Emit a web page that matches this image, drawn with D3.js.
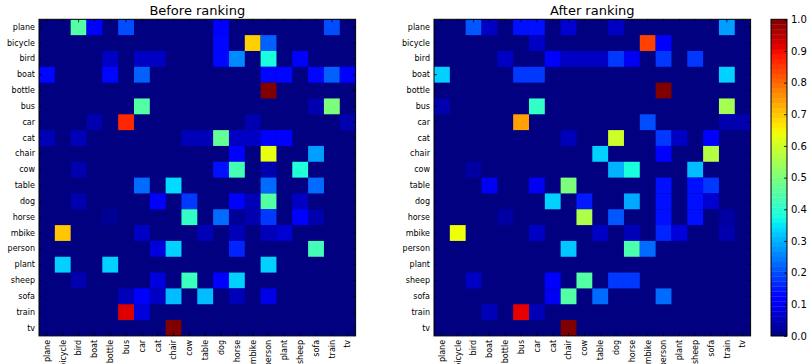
<!DOCTYPE html>
<html>
<head>
<meta charset="utf-8">
<script src="https://cdn.jsdelivr.net/npm/d3@7/dist/d3.min.js"></script>
<style>
  body { margin: 0; background: #fff; }
  text { font-family: "DejaVu Sans", sans-serif; fill: #000; }
</style>
</head>
<body>
<svg id="chart" width="809" height="364"></svg>
<script>
const classes = ['plane', 'bicycle', 'bird', 'boat', 'bottle', 'bus', 'car', 'cat', 'chair', 'cow',
  'table', 'dog', 'horse', 'mbike', 'person', 'plant', 'sheep', 'sofa', 'train', 'tv'];

const titles = ['Before ranking', 'After ranking'];
const cbarTicks = [0, 0.1, 0.2, 0.3, 0.4, 0.5, 0.6, 0.7, 0.8, 0.9, 1.0];

// non-zero cells: [row, col, value]  (everything else is 0)
const beforeCells = [
  [0, 2, 0.45], [0, 3, 0.12], [0, 5, 0.2], [0, 11, 0.12], [0, 18, 0.2],
  [1, 11, 0.13], [1, 13, 0.69], [1, 14, 0.22],
  [2, 4, 0.06], [2, 6, 0.06], [2, 7, 0.06], [2, 11, 0.13], [2, 12, 0.26], [2, 14, 0.38], [2, 16, 0.12],
  [3, 0, 0.13], [3, 4, 0.13], [3, 6, 0.22], [3, 14, 0.13], [3, 15, 0.13], [3, 17, 0.13], [3, 18, 0.22], [3, 19, 0.12],
  [4, 14, 1.0],
  [5, 6, 0.45], [5, 17, 0.04], [5, 18, 0.5],
  [6, 3, 0.04], [6, 5, 0.87], [6, 13, 0.04], [6, 19, 0.04],
  [7, 0, 0.05], [7, 2, 0.05], [7, 9, 0.05], [7, 10, 0.05], [7, 11, 0.47], [7, 12, 0.06], [7, 13, 0.06], [7, 14, 0.12], [7, 15, 0.12],
  [8, 12, 0.12], [8, 14, 0.63], [8, 17, 0.28],
  [9, 2, 0.04], [9, 11, 0.14], [9, 12, 0.43], [9, 14, 0.04], [9, 16, 0.39],
  [10, 6, 0.23], [10, 8, 0.34], [10, 14, 0.23], [10, 17, 0.23],
  [11, 2, 0.04], [11, 7, 0.12], [11, 9, 0.18], [11, 12, 0.12], [11, 13, 0.05], [11, 14, 0.45], [11, 16, 0.06],
  [12, 4, 0.02], [12, 9, 0.41], [12, 11, 0.23], [12, 12, 0.02], [12, 13, 0.04], [12, 14, 0.18], [12, 16, 0.12], [12, 17, 0.04],
  [13, 1, 0.7], [13, 6, 0.06], [13, 10, 0.05], [13, 12, 0.05], [13, 14, 0.05], [13, 15, 0.07],
  [14, 7, 0.08], [14, 8, 0.33], [14, 12, 0.16], [14, 17, 0.43],
  [15, 1, 0.33], [15, 4, 0.33], [15, 14, 0.33],
  [16, 2, 0.04], [16, 7, 0.08], [16, 9, 0.42], [16, 11, 0.12], [16, 12, 0.33],
  [17, 5, 0.05], [17, 6, 0.12], [17, 7, 0.06], [17, 8, 0.31], [17, 10, 0.31], [17, 12, 0.05], [17, 14, 0.09],
  [18, 5, 0.92], [18, 6, 0.08],
  [19, 8, 1.0]
];

const afterCells = [
  [0, 2, 0.21], [0, 3, 0.06], [0, 5, 0.14], [0, 6, 0.14], [0, 8, 0.07], [0, 11, 0.06], [0, 18, 0.28],
  [1, 6, 0.06], [1, 13, 0.84], [1, 14, 0.12],
  [2, 4, 0.06], [2, 7, 0.11], [2, 8, 0.06], [2, 9, 0.06], [2, 10, 0.06], [2, 11, 0.18], [2, 12, 0.1], [2, 14, 0.18], [2, 16, 0.18],
  [3, 0, 0.33], [3, 5, 0.18], [3, 6, 0.18], [3, 18, 0.33],
  [4, 14, 1.0],
  [5, 0, 0.04], [5, 6, 0.41], [5, 18, 0.55],
  [6, 5, 0.74], [6, 13, 0.2], [6, 18, 0.04], [6, 19, 0.04],
  [7, 8, 0.05], [7, 11, 0.6], [7, 14, 0.18], [7, 15, 0.06], [7, 17, 0.12],
  [8, 10, 0.33], [8, 14, 0.12], [8, 17, 0.57],
  [9, 2, 0.03], [9, 11, 0.3], [9, 12, 0.38], [9, 16, 0.31],
  [10, 3, 0.1], [10, 6, 0.1], [10, 8, 0.5], [10, 14, 0.14], [10, 16, 0.14], [10, 17, 0.18],
  [11, 7, 0.33], [11, 9, 0.15], [11, 12, 0.29], [11, 14, 0.14], [11, 16, 0.14], [11, 17, 0.07],
  [12, 4, 0.03], [12, 9, 0.56], [12, 11, 0.21], [12, 14, 0.14], [12, 16, 0.14], [12, 18, 0.03],
  [13, 1, 0.64], [13, 6, 0.06], [13, 10, 0.06], [13, 12, 0.05], [13, 14, 0.16], [13, 15, 0.08], [13, 18, 0.04],
  [14, 8, 0.32], [14, 12, 0.44], [14, 13, 0.23],
  [16, 2, 0.06], [16, 7, 0.12], [16, 9, 0.45], [16, 11, 0.18], [16, 12, 0.18],
  [17, 7, 0.1], [17, 8, 0.45], [17, 10, 0.23], [17, 14, 0.23],
  [18, 3, 0.05], [18, 5, 0.91], [18, 6, 0.05],
  [19, 8, 1.0]
];

// matplotlib "jet"
const jetR = d3.scaleLinear().domain([0, 0.35, 0.66, 0.89, 1]).range([0, 0, 1, 1, 0.5]).clamp(true);
const jetG = d3.scaleLinear().domain([0, 0.125, 0.375, 0.64, 0.91, 1]).range([0, 0, 1, 1, 0, 0]).clamp(true);
const jetB = d3.scaleLinear().domain([0, 0.11, 0.34, 0.65, 1]).range([0.5, 1, 1, 0, 0]).clamp(true);
function jet(v) {
  return d3.rgb(255 * jetR(v), 255 * jetG(v), 255 * jetB(v)).toString();
}

const svg = d3.select('#chart');
const size = 316.6, plotTop = 19.3;
const panels = [
  {left: 39, cells: beforeCells, title: titles[0]},
  {left: 434, cells: afterCells, title: titles[1]}
];

function full(cells) {
  const m = [];
  classes.forEach((r, i) => classes.forEach((c, j) => m.push({r: r, c: c, v: 0})));
  cells.forEach(d => { m[d[0] * classes.length + d[1]].v = d[2]; });
  return m;
}

panels.forEach(p => {
  const x = d3.scaleBand().domain(classes).range([p.left, p.left + size]);
  const y = d3.scaleBand().domain(classes).range([plotTop, plotTop + size]);
  const g = svg.append('g');

  // background = value 0, then cells on top
  g.append('rect')
    .attr('x', p.left).attr('y', plotTop)
    .attr('width', size).attr('height', size)
    .attr('fill', jet(0));

  g.selectAll('rect.cell')
    .data(full(p.cells).filter(d => d.v > 0))
    .enter().append('rect')
    .attr('class', 'cell')
    .attr('x', d => x(d.c))
    .attr('y', d => y(d.r))
    .attr('width', x.bandwidth())
    .attr('height', y.bandwidth())
    .attr('fill', d => jet(d.v));

  const tick = 3;
  const ax = g.append('g').attr('transform', `translate(${p.left},0)`)
    .call(d3.axisLeft(y).tickSize(-tick).tickPadding(4));
  ax.selectAll('text').style('font-size', '8px');

  g.append('g').attr('transform', `translate(${p.left + size},0)`)
    .call(d3.axisRight(y).tickSize(-tick).tickFormat(''));
  g.append('g').attr('transform', `translate(0,${plotTop})`)
    .call(d3.axisTop(x).tickSize(-tick).tickFormat(''));

  const bx = g.append('g').attr('transform', `translate(0,${plotTop + size})`)
    .call(d3.axisBottom(x).tickSize(-tick));
  bx.selectAll('text')
    .style('font-size', '8px')
    .attr('transform', 'rotate(-90)')
    .attr('x', -4)
    .attr('y', 0)
    .attr('dy', '0.35em')
    .style('text-anchor', 'end');

  g.selectAll('.domain').remove();
  g.selectAll('.tick line').attr('stroke', '#000').attr('stroke-width', 0.8);

  g.append('rect')
    .attr('x', p.left).attr('y', plotTop)
    .attr('width', size).attr('height', size)
    .attr('fill', 'none').attr('stroke', '#000').attr('stroke-width', 1);

  svg.append('text')
    .attr('x', p.left + size / 2)
    .attr('y', 15)
    .attr('text-anchor', 'middle')
    .style('font-size', '13px')
    .text(p.title);
});

// colorbar
const cbX = 771, cbW = 16;
const cy = d3.scaleLinear().domain([0, 1]).range([plotTop + size, plotTop]);
const bands = d3.range(0, 1, 1 / 64);
svg.append('g').selectAll('rect')
  .data(bands)
  .enter().append('rect')
  .attr('x', cbX)
  .attr('y', d => cy(d + 1 / 64))
  .attr('width', cbW)
  .attr('height', size / 64 + 0.3)
  .attr('fill', d => jet(d + 0.5 / 64));

const cax = svg.append('g').attr('transform', `translate(${cbX + cbW},0)`)
  .call(d3.axisRight(cy).tickValues(cbarTicks).tickFormat(d3.format('.1f')).tickSize(-3).tickPadding(4));
cax.select('.domain').remove();
cax.selectAll('.tick line').attr('stroke', '#000').attr('stroke-width', 0.8);
cax.selectAll('text').style('font-size', '10px');

svg.append('rect')
  .attr('x', cbX).attr('y', plotTop)
  .attr('width', cbW).attr('height', size)
  .attr('fill', 'none').attr('stroke', '#000').attr('stroke-width', 1);
</script>
</body>
</html>
